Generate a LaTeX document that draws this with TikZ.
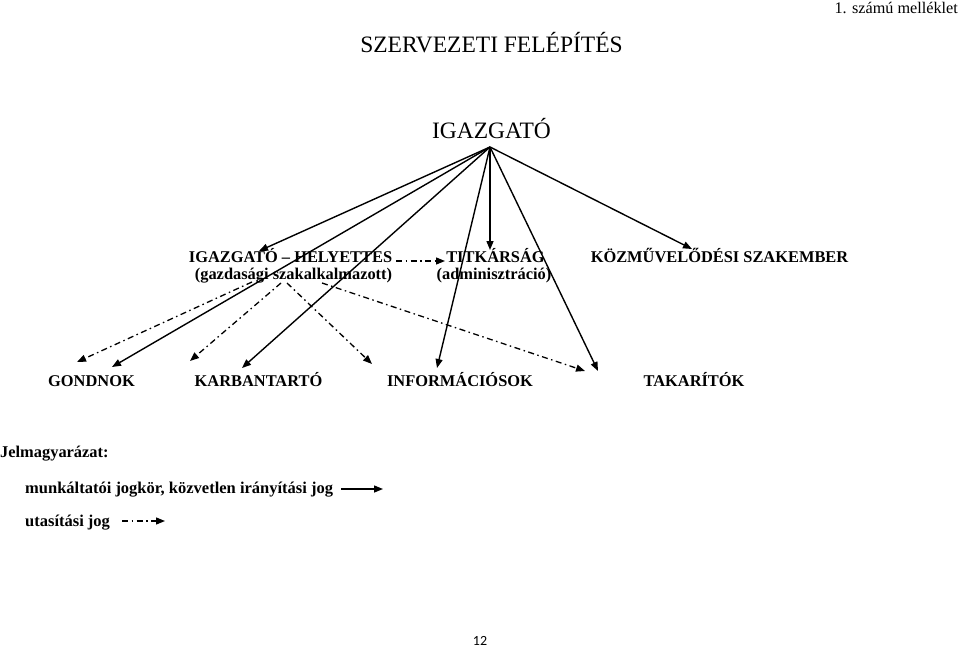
\documentclass[tikz,border=0pt]{standalone}
\usepackage{fontspec}
\setmainfont{Liberation Serif}
\newfontfamily\pagenumfont{Carlito}
\usetikzlibrary{arrows.meta}
\begin{document}
\begin{tikzpicture}[x=1pt,y=-1pt,
  lbl/.style={font=\bfseries\fontsize{16.4}{18}\selectfont, inner sep=0pt, anchor=base},
  ttl/.style={font=\fontsize{23.5}{26}\selectfont, inner sep=0pt, anchor=base},
  solidarr/.style={line width=1.4pt, -{Triangle[length=9pt,width=7pt]}},
  dasharr/.style={line width=1.3pt, dash pattern=on 6pt off 3.5pt on 1.5pt off 3.5pt, -{Triangle[length=9pt,width=7pt]}}]
\useasboundingbox (0,0) rectangle (960,647);

% header
\node[font=\fontsize{16.2}{18}\selectfont, inner sep=0pt, anchor=base east] (mell) at (958,14) {1. számú melléklet};
\node[ttl] (title) at (491.5,53) {SZERVEZETI FELÉPÍTÉS};
\node[ttl] (igazgato) at (491.5,139) {IGAZGATÓ};
\coordinate (apex) at (490,147);

% first level
\node[lbl] (hely1) at (290.5,262) {IGAZGATÓ – HELYETTES};
\node[lbl] (hely2) at (293.5,279) {(gazdasági szakalkalmazott)};
\node[lbl] (tit1) at (495.5,262) {TITKÁRSÁG};
\node[lbl] (tit2) at (494,279) {(adminisztráció)};
\node[lbl] (kozm) at (719.5,262) {KÖZMŰVELŐDÉSI SZAKEMBER};

% second level
\node[lbl] (gond) at (91.5,386) {GONDNOK};
\node[lbl] (karb) at (258.5,386) {KARBANTARTÓ};
\node[lbl] (info) at (460,386) {INFORMÁCIÓSOK};
\node[lbl] (tak) at (694,386) {TAKARÍTÓK};

% arrow tips
\coordinate (tHely) at (259,251);
\coordinate (tTit) at (490,250);
\coordinate (tKozm) at (692,249);
\coordinate (tGond) at (112,367);
\coordinate (tKarb) at (242,368);
\coordinate (tInfo) at (437,368);
\coordinate (tTak) at (598,371);

\draw[solidarr] (apex) -- (tHely);
\draw[solidarr] (apex) -- (tGond);
\draw[solidarr] (apex) -- (tKarb);
\draw[solidarr] (apex) -- (tTit);
\draw[solidarr] (apex) -- (tInfo);
\draw[solidarr] (apex) -- (tTak);
\draw[solidarr] (apex) -- (tKozm);

% dash-dot arrows
\coordinate (dsTit) at (396,261);
\coordinate (deTit) at (445,261);
\coordinate (dsGond) at (252,282);
\coordinate (deGond) at (77,362);
\coordinate (dsKarb) at (281,283);
\coordinate (deKarb) at (190,361);
\coordinate (dsInfo) at (287,283);
\coordinate (deInfo) at (372,364);
\coordinate (dsTak) at (322,283);
\coordinate (deTak) at (585,371);

\draw[dasharr] (dsTit) -- (deTit);
\draw[dasharr] (dsGond) -- (deGond);
\draw[dasharr] (dsKarb) -- (deKarb);
\draw[dasharr] (dsInfo) -- (deInfo);
\draw[dasharr] (dsTak) -- (deTak);

% legend
\node[lbl, anchor=base west] (jel) at (0,457) {Jelmagyarázat:};
\node[lbl, anchor=base west, font=\bfseries\fontsize{16.5}{18}\selectfont] (munk) at (25,493) {munkáltatói jogkör, közvetlen irányítási jog};
\node[lbl, anchor=base west, font=\bfseries\fontsize{16.5}{18}\selectfont] (utas) at (25,526) {utasítási jog};
\coordinate (lm1) at (341,489);
\coordinate (lm2) at (383,489);
\coordinate (lu1) at (122,521);
\coordinate (lu2) at (165,521);
\draw[solidarr] (lm1) -- (lm2);
\draw[dasharr] (lu1) -- (lu2);

% page number
\node[font=\pagenumfont\fontsize{14}{16}\selectfont, inner sep=0pt, anchor=base] (pnum) at (480,645) {12};
\end{tikzpicture}
\end{document}
